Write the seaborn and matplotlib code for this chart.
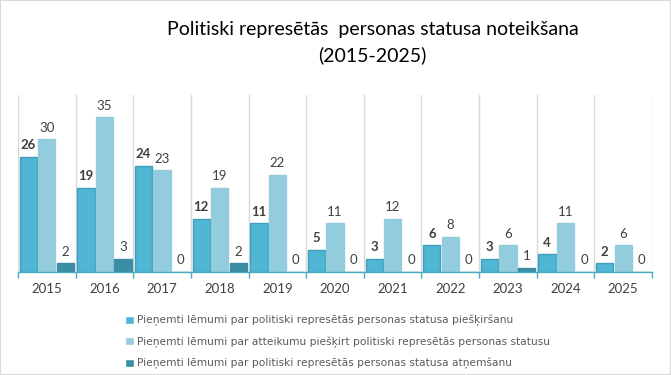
import pandas as pd
import numpy as np
import seaborn as sns
import matplotlib.pyplot as plt
from matplotlib.patches import Rectangle

years = ["2015", "2016", "2017", "2018", "2019", "2020", "2021", "2022", "2023", "2024", "2025"]
granted = [26, 19, 24, 12, 11, 5, 3, 6, 3, 4, 2]
refused = [30, 35, 23, 19, 22, 11, 12, 8, 6, 11, 6]
revoked = [2, 3, 0, 2, 0, 0, 0, 0, 1, 0, 0]

series_names = [
    "Pieņemti lēmumi par politiski represētās personas statusa piešķiršanu",
    "Pieņemti lēmumi par atteikumu piešķirt politiski represētās personas statusu",
    "Pieņemti lēmumi par politiski represētās personas statusa atņemšanu",
]
colors = ["#4FB6D4", "#93CDDD", "#3A8DA5"]
edges = ["#3F9FBD", "#93CDDD", "#3A8DA5"]

df = pd.DataFrame({
    "year": years * 3,
    "value": granted + refused + revoked,
    "series": [series_names[0]] * 11 + [series_names[1]] * 11 + [series_names[2]] * 11,
})

sns.set_style("white")
plt.rcParams["font.family"] = ["Lato", "DejaVu Sans"]

fig = plt.figure(figsize=(6.71, 3.75), dpi=100)
ax = fig.add_axes([18 / 671, 1 - 272 / 375, 634 / 671, 177 / 375])

sns.barplot(data=df, x="year", y="value", hue="series", hue_order=series_names,
            palette=colors, width=0.96, gap=0.06, ax=ax, saturation=1)

for cont, ec in zip(ax.containers, edges):
    for bar in cont:
        bar.set_edgecolor(ec)
        bar.set_linewidth(1)

for i, cont in enumerate(ax.containers):
    ax.bar_label(cont, fmt="%d", padding=4, fontsize=9.5, color="#404040",
                 fontweight="bold" if i == 0 else "normal")

ax.set_xlim(-0.5, 10.5)
ax.set_ylim(0, 40)
ax.set_xlabel("")
ax.set_ylabel("")
ax.set_yticks([])

# category separators
for b in np.arange(-0.5, 11, 1):
    ax.axvline(b, color="#D9D9D9", linewidth=1, zorder=0)
ax.set_xticks(np.arange(-0.5, 11, 1), minor=True)
ax.tick_params(axis="x", which="minor", length=4, color="#4BACC6", width=1, direction="out")
ax.tick_params(axis="x", which="major", length=0, labelsize=9.5, labelcolor="#404040", pad=8)
ax.tick_params(axis="x", which="minor", bottom=True)

for s in ["top", "right", "left"]:
    ax.spines[s].set_visible(False)
ax.spines["bottom"].set_color("#4BACC6")
ax.spines["bottom"].set_linewidth(1)

fig.text(0.555, 1 - 30 / 375, "Politiski represētās  personas statusa noteikšana",
         ha="center", va="center", fontsize=14, color="#000000")
fig.text(0.555, 1 - 55 / 375, "(2015-2025)", ha="center", va="center",
         fontsize=14, color="#000000")

sns.move_legend(ax, loc="upper left", bbox_to_anchor=(125 / 671, 1 - 315 / 375),
                bbox_transform=fig.transFigure, frameon=False, title=None,
                prop={"family": "DejaVu Sans", "size": 7.7},
                labelspacing=0.95, handlelength=0.8, handleheight=0.8,
                handletextpad=0.35, borderaxespad=0, borderpad=0)
for t in ax.get_legend().get_texts():
    t.set_color("#595959")

fig.patches.append(Rectangle((0, 0), 1, 1, transform=fig.transFigure, fill=False,
                             edgecolor="#D9D9D9", linewidth=1.5))

fig.savefig("out.png", dpi=100)
